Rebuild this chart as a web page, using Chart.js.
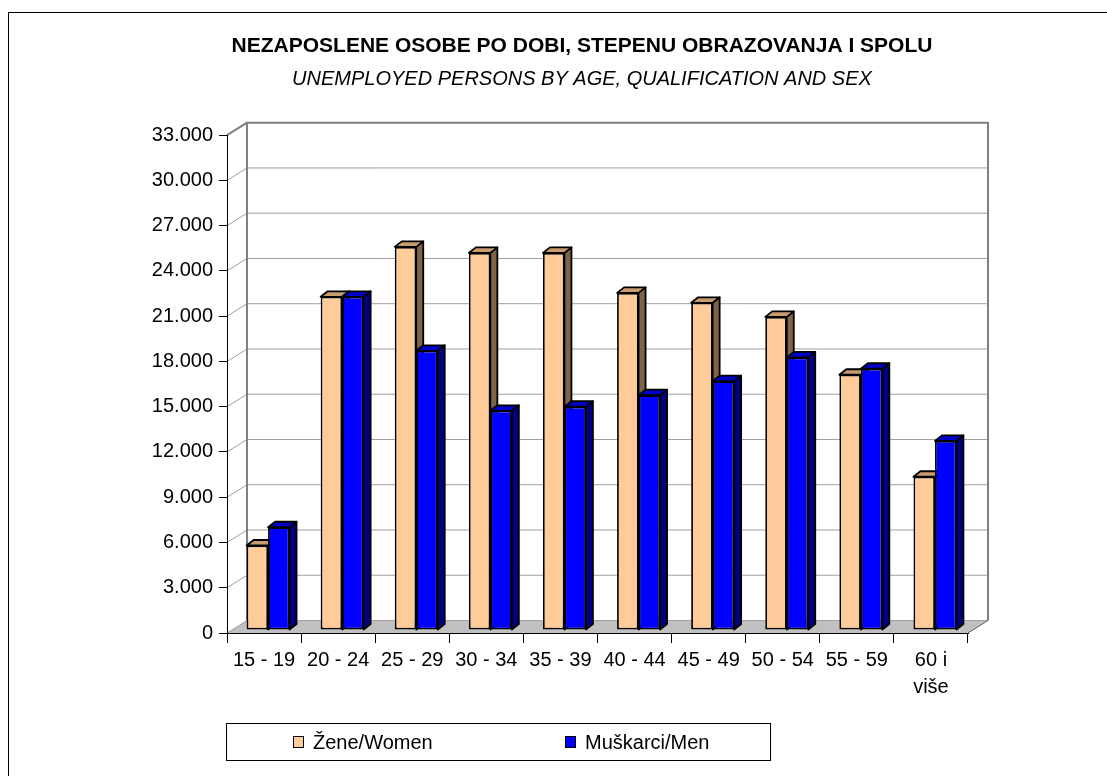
<!DOCTYPE html>
<html>
<head>
<meta charset="utf-8">
<script src="https://cdn.jsdelivr.net/npm/chart.js@4.4.1/dist/chart.umd.min.js"></script>
<style>
  body { margin: 0; background: #fff; }
  #wrap { position: relative; width: 1107px; height: 776px; overflow: hidden; }
  #frame { position: absolute; left: 8px; top: 12px; width: 1200px; height: 900px; border-left: 1px solid #000; border-top: 1px solid #000; }
  canvas { position: absolute; left: 0; top: 0; }
  #legend { position: absolute; left: 226px; top: 723px; width: 543px; height: 36px; border: 1px solid #000; font: 20px "Liberation Sans", Arial, sans-serif; color: #000; }
  #legend .item { position: absolute; top: 6px; display: flex; align-items: center; line-height: 24px; }
  #legend .sw { width: 9px; height: 10px; border: 1px solid #000; margin-right: 9px; }
</style>
</head>
<body>
<div id="wrap">
  <div id="frame"></div>
  <canvas id="chart" width="1107" height="776"></canvas>
  <div id="legend"></div>
</div>
<script>
const ageGroups = ['15 - 19', '20 - 24', '25 - 29', '30 - 34', '35 - 39', '40 - 44', '45 - 49', '50 - 54', '55 - 59', ['60 i', 'više']];
const women = [5600, 22090, 25400, 25000, 25000, 22350, 21690, 20760, 16920, 10160];
const men = [6810, 22090, 18510, 14530, 14800, 15570, 16500, 18070, 17320, 12540];
const seriesNames = ['Žene/Women', 'Muškarci/Men'];
const yMax = 33000;
const yStep = 3000;

const FONT = '"Liberation Sans", Arial, sans-serif';
// front / top / side colours of the 3d bars
const faceColors = [
	{ front: '#FFCC99', top: '#C89B70', side: '#806446' },
	{ front: '#0000FF', top: '#0000CC', side: '#000080' },
];
const DX = 20, DY = 12.5; // depth of the walls
const BD = 7, BE = 5.5; // depth of a bar
const SHIFT_X = 4, SHIFT_Y = -3;
const TITLE_LEFT = 196; // titles are centred a bit right of the canvas middle

function fmt(v) {
	return v === 0 ? '0' : (v / 1000).toFixed(3);
}

function poly(ctx, pts, fill) {
	ctx.beginPath();
	ctx.moveTo(pts[0][0], pts[0][1]);
	for (let i = 1; i < pts.length; i++) ctx.lineTo(pts[i][0], pts[i][1]);
	ctx.closePath();
	ctx.fillStyle = fill;
	ctx.fill();
	ctx.stroke();
}

const depth3d = {
	id: 'depth3d',
	afterLayout(chart) {
		chart.boxes.forEach((b) => {
			if (b.options && b.options.text !== undefined && b.position === 'top') {
				b.left = TITLE_LEFT;
			}
		});
	},
	beforeDraw(chart) {
		const { ctx, chartArea: a, scales: { y } } = chart;
		ctx.save();
		// floor
		ctx.fillStyle = '#C0C0C0';
		ctx.beginPath();
		ctx.moveTo(a.left, a.bottom);
		ctx.lineTo(a.right, a.bottom);
		ctx.lineTo(a.right + DX, a.bottom - DY);
		ctx.lineTo(a.left + DX, a.bottom - DY);
		ctx.closePath();
		ctx.fill();
		// grid on side and back wall
		ctx.strokeStyle = '#A0A0A0';
		ctx.lineWidth = 1;
		y.ticks.forEach((t) => {
			const py = y.getPixelForValue(t.value);
			ctx.beginPath();
			ctx.moveTo(a.left, py);
			ctx.lineTo(a.left + DX, py - DY);
			ctx.lineTo(a.right + DX, py - DY);
			ctx.stroke();
		});
		// wall edges
		ctx.strokeStyle = '#808080';
		ctx.lineWidth = 2;
		ctx.beginPath();
		ctx.moveTo(a.left + DX, a.bottom - DY);
		ctx.lineTo(a.left + DX, a.top - DY);
		ctx.lineTo(a.right + DX, a.top - DY);
		ctx.lineTo(a.right + DX, a.bottom - DY);
		ctx.stroke();
		ctx.beginPath();
		ctx.moveTo(a.left, a.top);
		ctx.lineTo(a.left + DX, a.top - DY);
		ctx.stroke();
		ctx.lineWidth = 1;
		ctx.strokeStyle = '#606060';
		ctx.beginPath();
		ctx.moveTo(a.right, a.bottom);
		ctx.lineTo(a.right + DX, a.bottom - DY);
		ctx.stroke();
		ctx.restore();
	},
	beforeDatasetsDraw(chart) {
		const { ctx } = chart;
		ctx.save();
		ctx.translate(SHIFT_X, SHIFT_Y);
		ctx.strokeStyle = '#000';
		ctx.lineWidth = 1.8;
		ctx.lineJoin = 'round';
		const metas = chart.getSortedVisibleDatasetMetas();
		for (let i = 0; i < chart.data.labels.length; i++) {
			metas.forEach((m) => {
				const el = m.data[i];
				const c = faceColors[m.index];
				const { x, y, base, width } = el.getProps(['x', 'y', 'base', 'width'], true);
				const l = x - width / 2, r = x + width / 2;
				poly(ctx, [[r, y], [r + BD, y - BE], [r + BD, base - BE], [r, base]], c.side);
				poly(ctx, [[l, y], [l + BD, y - BE], [r + BD, y - BE], [r, y]], c.top);
			});
		}
	},
	afterDatasetsDraw(chart) {
		chart.ctx.restore();
	},
};

const datasets = [women, men].map((vals, i) => ({
	label: seriesNames[i],
	data: vals,
	backgroundColor: faceColors[i].front,
	borderColor: '#000',
	borderWidth: 1.8,
	borderSkipped: false,
	categoryPercentage: 0.58,
	barPercentage: 1,
	clip: false,
}));

new Chart(document.getElementById('chart'), {
	type: 'bar',
	data: { labels: ageGroups, datasets: datasets },
	plugins: [depth3d],
	options: {
		responsive: false,
		animation: false,
		devicePixelRatio: 1,
		layout: { padding: { left: 130, right: 139, top: 22, bottom: 63 } },
		plugins: {
			legend: { display: false },
			tooltip: { enabled: false },
			title: {
				display: true,
				text: 'NEZAPOSLENE OSOBE PO DOBI, STEPENU OBRAZOVANJA I SPOLU',
				color: '#000',
				font: { family: FONT, size: 21, weight: 'bold', lineHeight: 1.2 },
				padding: { top: 12, bottom: 0 },
			},
			subtitle: {
				display: true,
				text: 'UNEMPLOYED PERSONS BY AGE, QUALIFICATION AND SEX',
				color: '#000',
				font: { family: FONT, size: 20, style: 'italic', lineHeight: 1.2 },
				padding: { top: 8, bottom: 44 },
			},
		},
		scales: {
			x: {
				grid: { drawOnChartArea: false, tickLength: 10, color: '#000', offset: true },
				border: { color: '#000', width: 1 },
				ticks: { color: '#000', font: { family: FONT, size: 20, lineHeight: 1.35 }, padding: 4, maxRotation: 0, autoSkip: false },
				afterFit(s) { s.height = 80; },
			},
			y: {
				min: 0,
				max: yMax,
				grid: { drawOnChartArea: false, tickLength: 8, color: '#000' },
				border: { color: '#000', width: 1 },
				ticks: { stepSize: yStep, color: '#000', font: { family: FONT, size: 20 }, padding: 6, callback: (v) => fmt(v) },
				afterFit(s) { s.width = 97; },
			},
		},
	},
});

// legend box below the chart
const legendX = [66, 338];
const legend = document.getElementById('legend');
seriesNames.forEach((name, i) => {
	const item = document.createElement('div');
	item.className = 'item';
	item.style.left = legendX[i] + 'px';
	item.innerHTML = '<span class="sw" style="background:' + faceColors[i].front + '"></span><span>' + name + '</span>';
	legend.appendChild(item);
});
</script>
</body>
</html>
